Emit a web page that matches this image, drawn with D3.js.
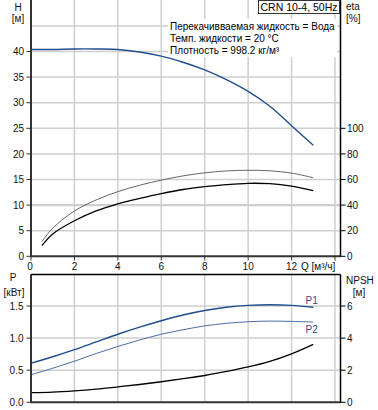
<!DOCTYPE html>
<html><head><meta charset="utf-8">
<script src="https://cdn.jsdelivr.net/npm/d3@7"></script>
<style>
html,body{margin:0;padding:0;background:#fff;}
svg{display:block;font-family:"Liberation Sans",Arial,sans-serif;}
</style></head>
<body><div id="chart"></div>
<script>
// ---- data ----
const qH = [0,1,2,3,4,5,6,7,8,9,10,11,12,13];
const headH = [40.4,40.4,40.5,40.5,40.4,39.9,39.1,37.9,36.4,34.5,32.2,29.3,25.5,21.7];
const qEta = [0.5,1,2,3,4,5,6,7,8,9,10,11,12,13];
const etaUpper = [11.4,22,35.4,44,50.5,55.5,59.5,62.8,65.2,66.7,67.2,66.8,65,61.4];
const etaLower = [8.3,17.5,27.8,35.5,41,45.2,49,52.2,54.4,56,57,56.7,54.8,51.3];
const qP = [0,1,2,3,4,5,6,7,8,9,10,11,12,13];
const powerP1 = [0.61,0.71,0.82,0.94,1.06,1.17,1.27,1.36,1.43,1.48,1.51,1.52,1.51,1.48];
const powerP2 = [0.43,0.53,0.64,0.76,0.87,0.97,1.06,1.13,1.19,1.23,1.255,1.265,1.26,1.25];
const npsh = [0.6,0.63,0.71,0.82,0.96,1.11,1.28,1.47,1.67,1.92,2.2,2.55,3.02,3.61];
const qTicks = [0,2,4,6,8,10,12];
const hTicks = [0,5,10,15,20,25,30,35,40];
const etaTicks = [0,20,40,60,80,100];
const pTicks = [0,0.5,1.0,1.5];
const npshTicks = [0,2,4,6];
const infoLines = ["Перекачивваемая жидкость = Вода","Темп. жидкости = 20 °C","Плотность = 998.2 кг/м³"];
const title = "CRN 10-4, 50Hz";

const W=378,H=410;
const svg=d3.select("#chart").append("svg").attr("width",W).attr("height",H);
const xL=31, xR=340.5;
const x=d3.scaleLinear().domain([0,14]).range([31,335]);
const yH=d3.scaleLinear().domain([0,50]).range([256.3,0.3]);
const yEta=d3.scaleLinear().domain([0,200]).range([256.3,0.3]);
const yP=d3.scaleLinear().domain([0,1.5]).range([402.3,306]);
const yN=d3.scaleLinear().domain([0,6]).range([402.3,306]);
const topB=274.5;

const grid="#cfcfcf";
svg.append("g").selectAll("line").data([2,4,6,8,10,12,14]).join("line")
 .attr("x1",d=>x(d)).attr("x2",d=>x(d)).attr("y1",0).attr("y2",256.3)
 .attr("stroke",grid).attr("stroke-width",1.5);
svg.append("g").selectAll("line").data([5,10,15,20,25,30,35,40,45]).join("line")
 .attr("x1",xL).attr("x2",xR).attr("y1",d=>yH(d)).attr("y2",d=>yH(d))
 .attr("stroke",grid).attr("stroke-width",d=>d===10?2.2:1.5);
svg.append("g").selectAll("line").data([2,4,6,8,10,12,14]).join("line")
 .attr("x1",d=>x(d)).attr("x2",d=>x(d)).attr("y1",topB).attr("y2",402.3)
 .attr("stroke",grid).attr("stroke-width",1.5);
svg.append("g").selectAll("line").data([0.5,1.0,1.5]).join("line")
 .attr("x1",xL).attr("x2",xR).attr("y1",d=>yP(d)).attr("y2",d=>yP(d))
 .attr("stroke",grid).attr("stroke-width",1.5);

svg.append("rect").attr("x",168).attr("y",19).attr("width",169).attr("height",38).attr("fill","#fff");
const info=svg.append("g").attr("font-size",10).attr("fill","#000");
infoLines.forEach((t,i)=>info.append("text").attr("x",170).attr("y",29.5+i*12.4).text(t));

const line=(xs,ys,sx,sy)=>d3.line().x((d,i)=>sx(xs[i])).y(d=>sy(d)).curve(d3.curveCatmullRom.alpha(0.5))(ys);
svg.append("path").attr("d",line(qH,headH,x,yH)).attr("fill","none").attr("stroke","#1f4e8c").attr("stroke-width",1.4);
svg.append("path").attr("d",line(qEta,etaUpper,x,yEta)).attr("fill","none").attr("stroke","#555").attr("stroke-width",0.9);
svg.append("path").attr("d",line(qEta,etaLower,x,yEta)).attr("fill","none").attr("stroke","#000").attr("stroke-width",1.3);
svg.append("path").attr("d",line(qP,powerP1,x,yP)).attr("fill","none").attr("stroke","#1f4e8c").attr("stroke-width",1.4);
svg.append("path").attr("d",line(qP,powerP2,x,yP)).attr("fill","none").attr("stroke","#4a6ea3").attr("stroke-width",1);
svg.append("path").attr("d",line(qP,npsh,x,yN)).attr("fill","none").attr("stroke","#000").attr("stroke-width",1.3);

const ax="#333";
function vline(xx,y1,y2,c,w){svg.append("line").attr("x1",xx).attr("x2",xx).attr("y1",y1).attr("y2",y2).attr("stroke",c).attr("stroke-width",w);}
function hline(y,x1,x2,c,w){svg.append("line").attr("x1",x1).attr("x2",x2).attr("y1",y).attr("y2",y).attr("stroke",c).attr("stroke-width",w);}
vline(xL,0,257,ax,2); vline(xR,0,257,"#000",1.5); hline(256.3,xL-1,xR,ax,2);
vline(xL,topB,403,ax,2); vline(xR,topB,403,"#000",1.5); hline(topB,xL,xR,"#000",1.5); hline(402.3,xL-1,xR,ax,2);

const tc="#111";
const gL=svg.append("g").attr("font-size",10).attr("fill",tc).attr("text-anchor","end");
hTicks.forEach(d=>{hline(yH(d),26.5,xL,ax,1); gL.append("text").attr("x",24).attr("y",yH(d)+3.6).text(d);});
pTicks.forEach(d=>{hline(yP(d),26.5,xL,ax,1); gL.append("text").attr("x",23.5).attr("y",yP(d)+3.6).text(d.toFixed(1));});
const gR=svg.append("g").attr("font-size",10).attr("fill",tc).attr("text-anchor","start");
etaTicks.forEach(d=>{hline(yEta(d),xR,345.5,"#000",1); gR.append("text").attr("x",347).attr("y",yEta(d)+3.6).text(d);});
npshTicks.forEach(d=>{hline(yN(d),xR,345.5,"#000",1); gR.append("text").attr("x",347).attr("y",yN(d)+3.6).text(d);});
const gB=svg.append("g").attr("font-size",10).attr("fill",tc).attr("text-anchor","middle");
qTicks.concat([14]).forEach(d=>vline(x(d),256.3,260.5,ax,1));
qTicks.forEach(d=>gB.append("text").attr("x",x(d)-(d===0?1:0)).attr("y",270).text(d));
svg.append("text").attr("x",301).attr("y",270).attr("font-size",10).attr("fill",tc).text("Q [м³/ч]");

const lab=svg.append("g").attr("font-size",10).attr("fill",tc);
lab.append("text").attr("x",18).attr("y",11).attr("text-anchor","middle").text("H");
lab.append("text").attr("x",18).attr("y",21.5).attr("text-anchor","middle").text("[м]");
lab.append("text").attr("x",346).attr("y",10).text("eta");
lab.append("text").attr("x",346).attr("y",21.5).text("[%]");
lab.append("text").attr("x",13).attr("y",281).attr("text-anchor","middle").text("P");
lab.append("text").attr("x",14).attr("y",296).attr("text-anchor","middle").text("[кВт]");
lab.append("text").attr("x",346).attr("y",283.5).text("NPSH");
lab.append("text").attr("x",359).attr("y",296).attr("text-anchor","middle").text("[м]");
svg.append("text").attr("x",305.5).attr("y",303.5).attr("font-size",10).attr("fill","#1f4e8c").text("P1");
svg.append("text").attr("x",305.5).attr("y",333).attr("font-size",10).attr("fill","#1f4e8c").text("P2");

svg.append("rect").attr("x",258.5).attr("y",0.5).attr("width",81).attr("height",13).attr("fill","#fff").attr("stroke","#333").attr("stroke-width",1);
svg.append("text").attr("x",299).attr("y",10.8).attr("text-anchor","middle").attr("font-size",10.5).attr("fill","#000").text(title);
</script></body></html>
